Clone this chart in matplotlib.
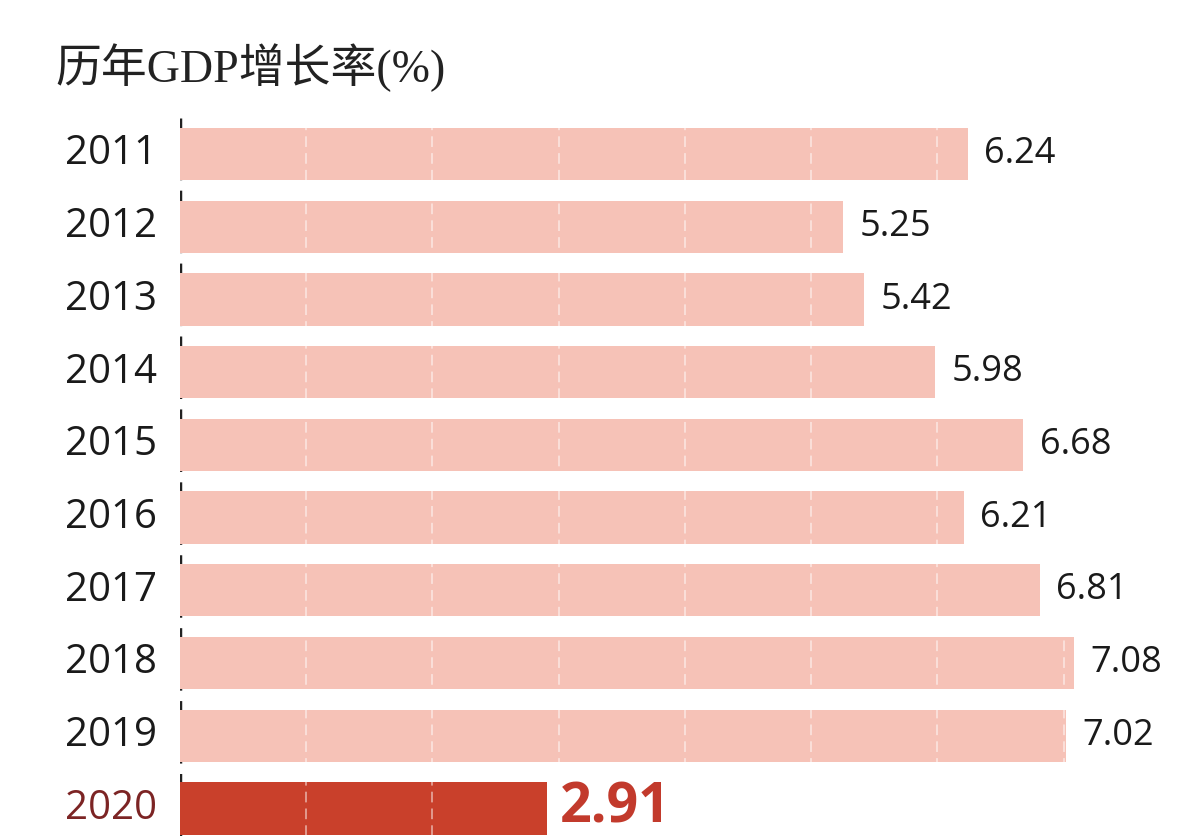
"""
历年GDP增长率 horizontal bar chart (2011-2020), last year highlighted.
Produces: out.png
"""
import matplotlib
matplotlib.use("Agg")
import matplotlib.pyplot as plt

LIGHT_COLOR = "#f6c2b7"   # pink  - normal years
HIGH_COLOR  = "#c9402b"   # red   - 2020
HIGH_TEXT   = "#c23a2c"
YEAR_HIGH   = "#7c2424"

years  = ["2011", "2012", "2013", "2014", "2015", "2016", "2017", "2018", "2019", "2020"]
growth = [6.24, 5.25, 5.42, 5.98, 6.68, 6.21, 6.81, 7.08, 7.02, 2.91]
grid_ticks = [1, 2, 3, 4, 5, 6, 7]

SANS = ["Open Sans", "DejaVu Sans"]
TITLE_FONT = ["Liberation Serif", "Noto Sans CJK SC"]


def main():
    fig = plt.figure(figsize=(12, 8.36), dpi=100)
    ax = fig.add_axes([0.15, 0.0, 0.85, 0.859])

    pos = list(range(len(years)))
    colors = [LIGHT_COLOR] * (len(years) - 1) + [HIGH_COLOR]
    ax.barh(pos, growth, height=0.72, color=colors, zorder=2)

    # dashed white gridlines drawn over the bars
    for t in grid_ticks:
        ax.axvline(t, color="white", lw=1.1, ls=(0, (7, 4)), alpha=0.6, zorder=3)

    # dashed dark axis line behind the bars
    ax.axvline(0, color="#222222", lw=2.5, ls=(0, (4, 3)), zorder=1)

    ax.set_xlim(0, 8.08)
    ax.set_ylim(9.38, -0.5)
    ax.axis("off")

    for i, (yr, v) in enumerate(zip(years, growth)):
        last = i == len(years) - 1
        ax.text(-0.18, i, yr, ha="right", va="center", family=SANS,
                fontsize=29, color=YEAR_HIGH if last else "#1a1a1a")
        if last:
            ax.text(v + 0.1, i, f"{v:.2f}", ha="left", va="center",
                    family=SANS, fontsize=40, fontweight="bold",
                    color=HIGH_TEXT, clip_on=False)
        else:
            ax.text(v + 0.13, i, f"{v:.2f}", ha="left", va="center",
                    family=SANS, fontsize=26, color="#1a1a1a")

    fig.text(0.046, 0.919, "历年GDP增长率(%)", ha="left", va="center",
             family=TITLE_FONT, fontsize=33, color="#222222")

    fig.savefig("out.png", dpi=100)
    plt.close(fig)


if __name__ == "__main__":
    main()
